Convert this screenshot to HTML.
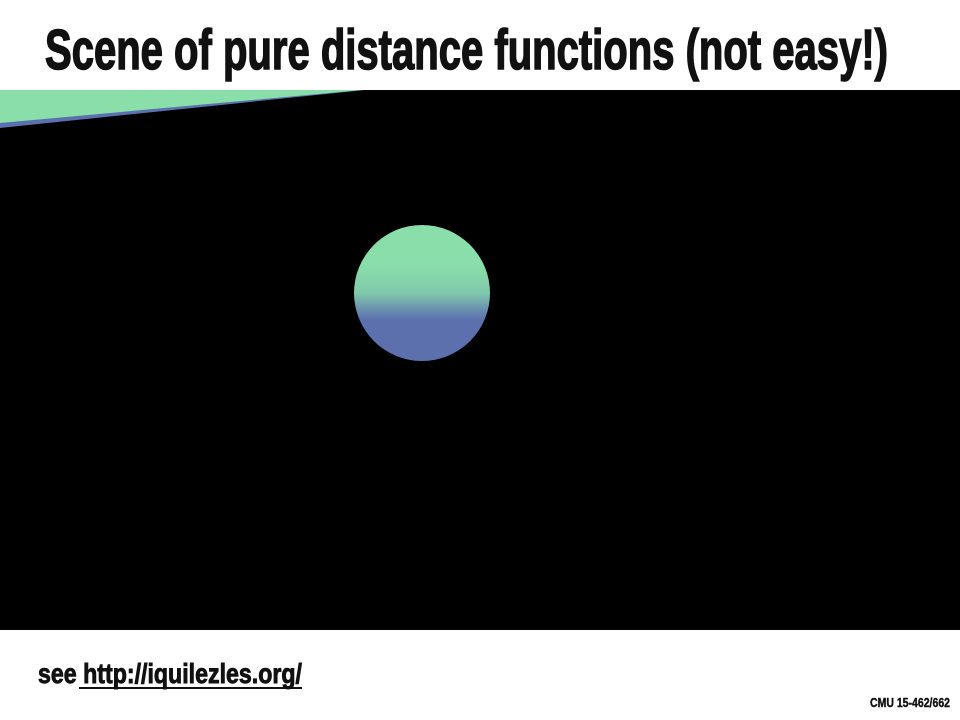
<!DOCTYPE html>
<html><head><meta charset="utf-8"><style>
html,body{margin:0;padding:0;background:#fff;width:960px;height:720px;overflow:hidden}
svg{display:block}
text{font-family:"Liberation Sans Narrow","Liberation Sans",sans-serif;font-weight:bold;fill:#111;stroke:#111}
</style></head><body>
<svg width="960" height="720" viewBox="0 0 960 720">
  <defs>
    <linearGradient id="sph" x1="0" y1="0" x2="0" y2="1">
      <stop offset="0" stop-color="#8adeaa"/>
      <stop offset="0.3" stop-color="#8adeaa"/>
      <stop offset="0.5" stop-color="#80c8ac"/>
      <stop offset="0.62" stop-color="#6a90af"/>
      <stop offset="0.7" stop-color="#5b70ad"/>
      <stop offset="1" stop-color="#5b70ad"/>
    </linearGradient>
  </defs>
  <text x="45" y="69" font-size="57" stroke-width="1.6" textLength="843" lengthAdjust="spacingAndGlyphs">Scene of pure distance functions (not easy!)</text>
  <rect x="0" y="90" width="960" height="540" fill="#000"/>
  <polygon points="0,90 365,90 0,128" fill="#5b70ad"/>
  <polygon points="0,90 362,90 0,123" fill="#8adeaa"/>
  <circle cx="422" cy="293" r="68" fill="url(#sph)"/>
  <a>
    <text x="38" y="683" font-size="28" stroke-width="0.9" textLength="264" lengthAdjust="spacingAndGlyphs">see http://iquilezles.org/</text>
  </a>
  <line x1="79" y1="688" x2="302" y2="688" stroke="#111" stroke-width="2"/>
  <text x="870" y="707" font-size="13" stroke-width="0.4" textLength="80" lengthAdjust="spacingAndGlyphs">CMU 15-462/662</text>
</svg>
</body></html>
